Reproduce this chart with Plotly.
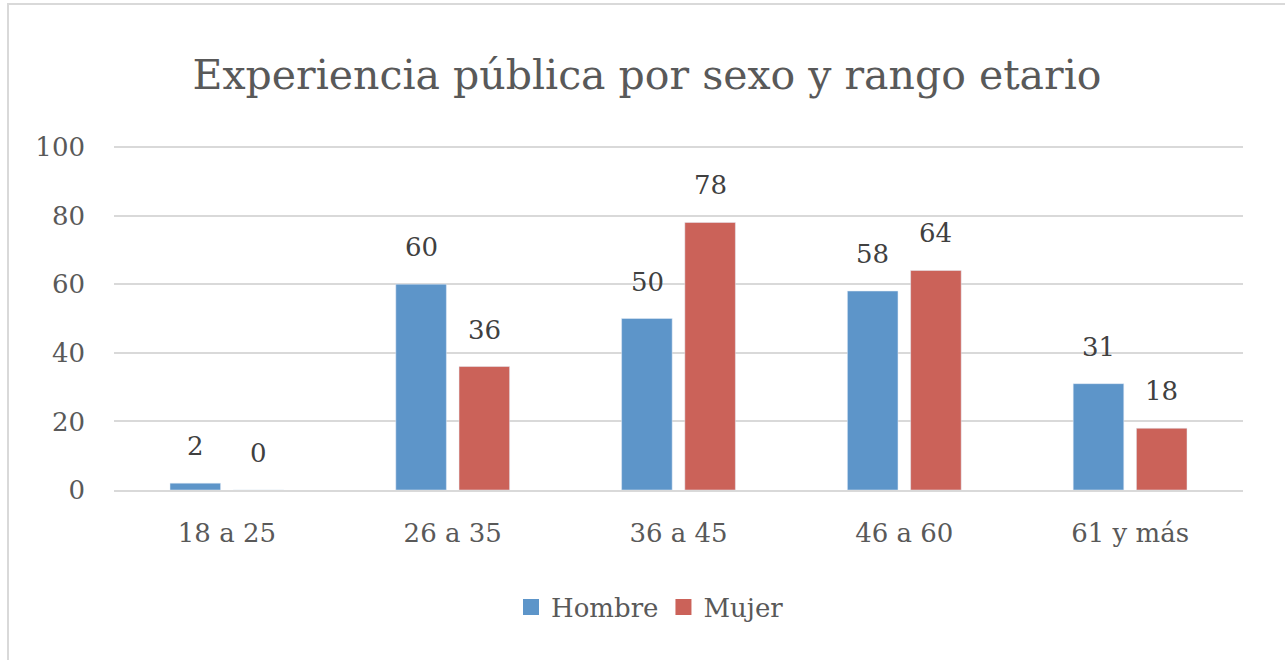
import plotly.graph_objects as go

categories = ["18 a 25", "26 a 35", "36 a 45", "46 a 60", "61 y más"]
hombre = [2, 60, 50, 58, 31]
mujer = [0, 36, 78, 64, 18]
series_names = ["Hombre", "Mujer"]
colors = ["#5D95C9", "#CB6259"]
title_text = "Experiencia pública por sexo y rango etario"

W, H = 1285, 660
L, R, T, B = 114, 42, 145, 170
pw, ph = W - L - R, H - T - B
ytop = 100 * ph / 343.0

FONT = "DejaVu Serif"
FS = 26
fig = go.Figure()
for name, vals, col in zip(series_names, [hombre, mujer], colors):
    fig.add_trace(go.Bar(name=name, x=categories, y=vals, marker_color=col, showlegend=False))
for name, col in zip(series_names, colors):
    fig.add_trace(go.Scatter(name=name, x=[categories[0]], y=[None], mode="markers",
                             marker=dict(symbol="square", size=16, color=col), showlegend=True,
                             hoverinfo="skip"))

annotations = []
for vals, shift in [(hombre, -31.5), (mujer, 31.5)]:
    for c, v in zip(categories, vals):
        annotations.append(dict(x=c, y=v, xref="x", yref="y", text=str(v), showarrow=False,
                                xshift=shift, yshift=37, yanchor="middle",
                                font=dict(family=FONT, size=FS, color="#404040")))

def px_x(p):
    return (p - L) / pw

def px_y(p):
    return (H - B - p) / ph

fig.update_layout(
    width=W, height=H,
    margin=dict(l=L, r=R, t=T, b=B),
    paper_bgcolor="white", plot_bgcolor="white",
    barmode="group", bargap=0.44, bargroupgap=0.2,
    title=dict(text=title_text, x=647 / W, xanchor="center", xref="container",
               y=1 - 75 / H, yanchor="middle", yref="container",
               font=dict(family=FONT, size=41, color="#595959")),
    font=dict(family=FONT, size=FS, color="#595959"),
    xaxis=dict(showgrid=False, showline=True, linecolor="#D9D9D9", linewidth=1.5,
               ticks="", ticklabelstandoff=19, tickangle=0,
               tickfont=dict(family=FONT, size=FS, color="#595959")),
    yaxis=dict(range=[0, ytop], tickvals=[0, 20, 40, 60, 80, 100], showgrid=True,
               gridcolor="#D9D9D9", gridwidth=1.5,
               zeroline=False, showline=False, ticks="", ticklabelstandoff=28,
               tickfont=dict(family=FONT, size=FS, color="#595959")),
    legend=dict(orientation="h", x=px_x(650), xanchor="center",
                y=px_y(607), yanchor="middle",
                font=dict(family=FONT, size=FS, color="#595959"), itemwidth=30,
                traceorder="normal"),
    annotations=annotations,
    shapes=[dict(type="rect", xref="paper", yref="paper",
                 x0=px_x(8), x1=px_x(W + 20), y0=px_y(H + 20), y1=px_y(4),
                 line=dict(color="#D9D9D9", width=2), fillcolor="rgba(0,0,0,0)", layer="below")],
)

fig.write_html("out.html", config={"displayModeBar": False},
               post_script="document.body.style.margin='0';")
